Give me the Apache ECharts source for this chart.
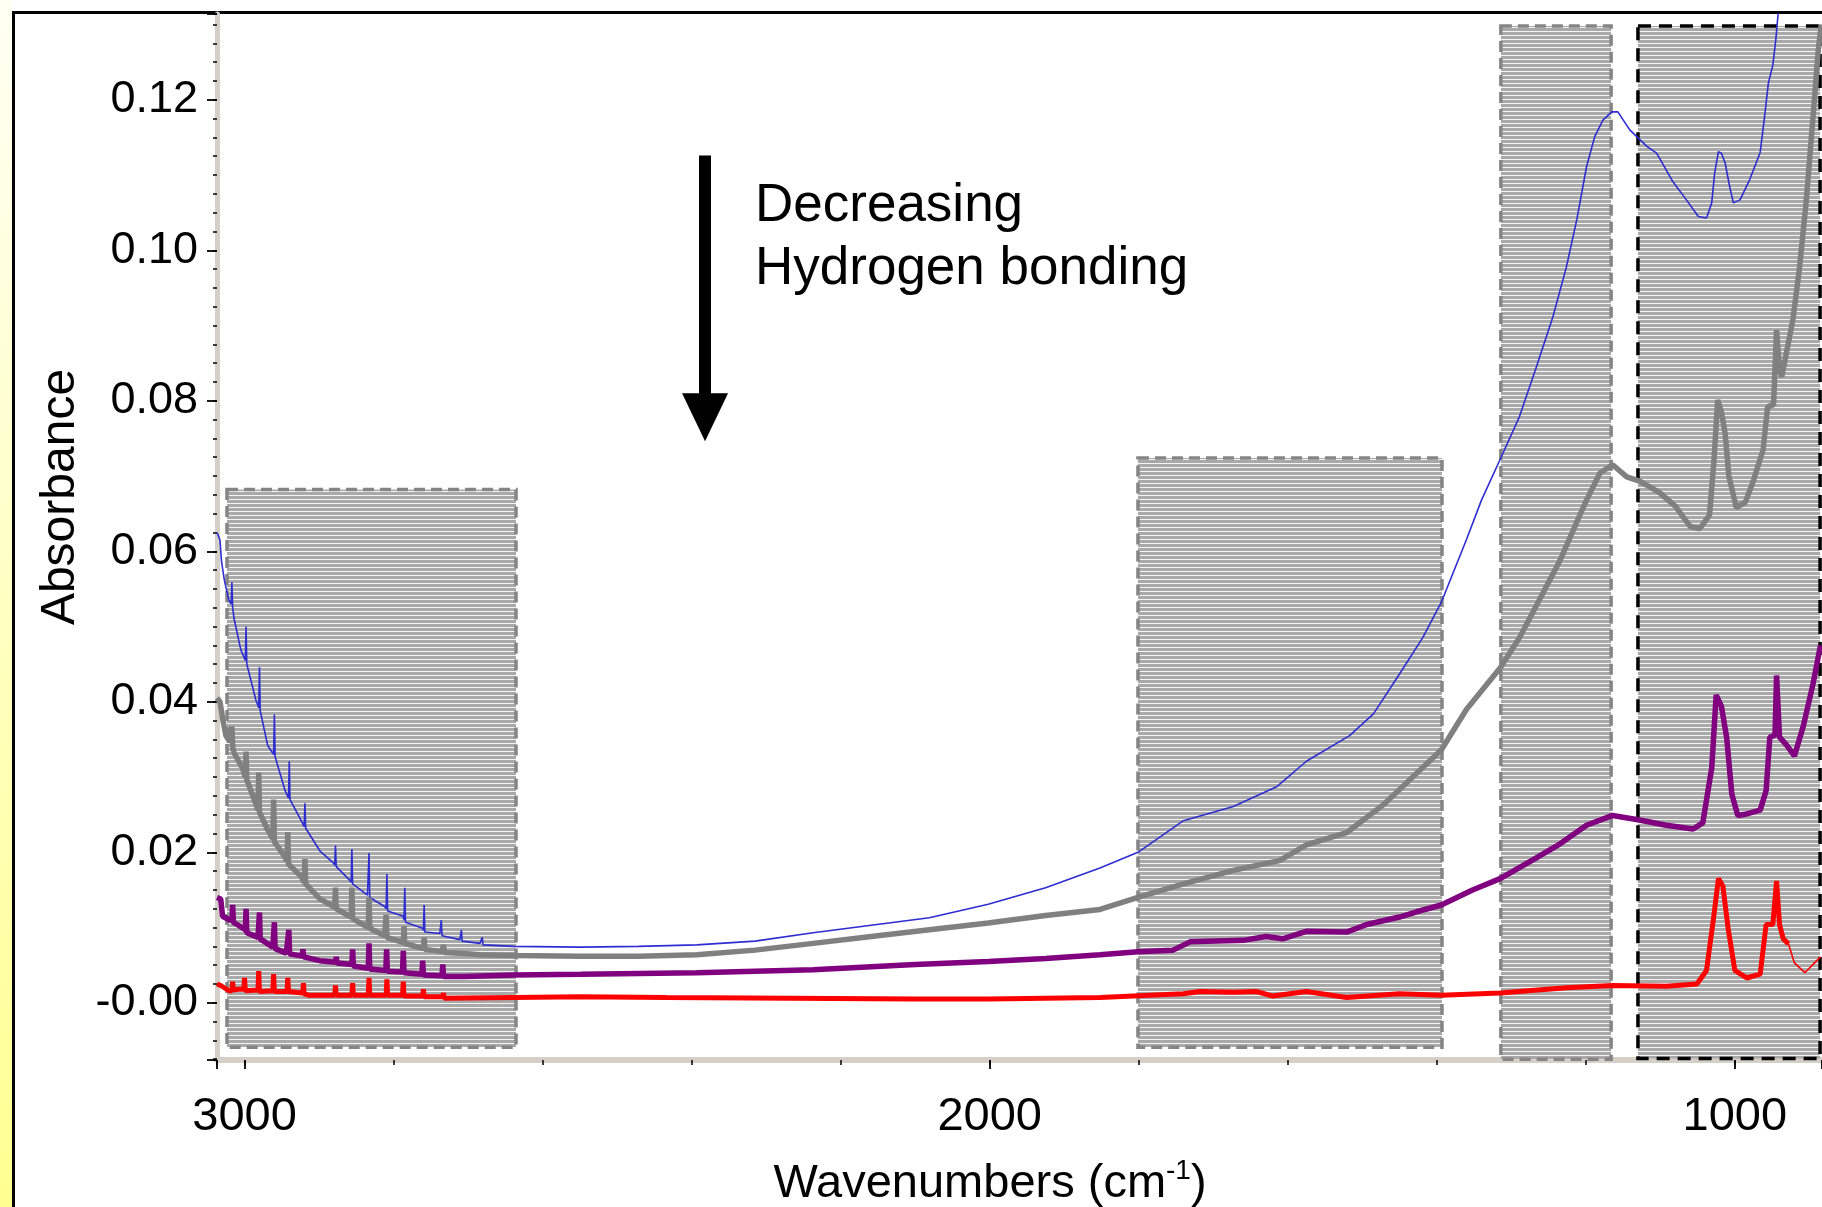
<!DOCTYPE html>
<html>
<head>
<meta charset="utf-8">
<title>Absorbance</title>
<script src="https://cdn.jsdelivr.net/npm/echarts@6/dist/echarts.min.js"></script>
<style>
html, body { margin: 0; padding: 0; background: #fff; }
#main { width: 1822px; height: 1207px; }
</style>
</head>
<body>
<div id="main"></div>
<script>
// axis ranges (wavenumber axis runs right to left)
const waveRange = [883, 3037];
const absRange = [-0.0076, 0.1314];
const waveSteps = [1000, 200];     // major, minor
const absSteps = [0.02, 0.0025];

// spectra, [wavenumber, absorbance]
const blueTrace = [
  [3037,0.0625],[3033,0.0615],[3031,0.0587],[3027,0.0561],[3021,0.0535],[3018,0.0530],[3017,0.0559],[3016,0.0525],
  [3014,0.0510],[3005,0.0469],[2999,0.0455],[2998,0.0500],[2997,0.0450],[2985,0.0403],[2981,0.0392],[2980,0.0446],
  [2979,0.0388],[2969,0.0342],[2961,0.0330],[2960,0.0383],[2959,0.0327],[2946,0.0283],[2941,0.0272],[2940,0.0321],
  [2939,0.0270],[2924,0.0242],[2920,0.0234],[2919,0.0265],[2918,0.0232],[2899,0.0202],[2881,0.0186],[2879,0.0183],
  [2878,0.0209],[2877,0.0181],[2859,0.0163],[2857,0.0160],[2856,0.0204],[2855,0.0158],[2835,0.0143],[2834,0.0142],
  [2833,0.0199],[2832,0.0140],[2812,0.0128],[2810,0.0125],[2809,0.0171],[2808,0.0122],[2787,0.0115],[2786,0.0110],
  [2785,0.0153],[2784,0.0107],[2761,0.0099],[2760,0.0096],[2759,0.0130],[2758,0.0094],[2738,0.0092],[2737,0.0090],
  [2736,0.0110],[2735,0.0089],[2711,0.0084],[2710,0.0083],[2709,0.0097],[2708,0.0082],[2684,0.0079],[2682,0.0078],
  [2681,0.0087],[2680,0.0077],[2639,0.0075],[2549,0.0074],[2471,0.0075],[2393,0.0077],[2315,0.0082],[2237,0.0093],
  [2159,0.0103],[2081,0.0113],[2002,0.0131],[1925,0.0153],[1852,0.0179],[1801,0.0200],[1740,0.0242],
  [1673,0.0261],[1615,0.0287],[1575,0.0321],[1517,0.0355],[1485,0.0384],[1450,0.0437],[1419,0.0485],
  [1394,0.0532],[1360,0.0616],[1340,0.0668],[1315,0.0722],[1289,0.0779],[1266,0.0846],[1244,0.0912],
  [1226,0.0978],[1212,0.1041],[1199,0.1111],[1188,0.1151],[1177,0.1173],[1165,0.1184],[1157,0.1184],
  [1141,0.1160],[1118,0.1138],[1105,0.1129],[1083,0.1091],[1065,0.1067],[1049,0.1045],[1038,0.1043],
  [1031,0.1063],[1027,0.1103],[1022,0.1131],[1018,0.1129],[1013,0.1116],[1007,0.1085],[1002,0.1063],
  [993,0.1067],[980,0.1094],[966,0.1130],[960,0.1178],[955,0.1222],[949,0.1246],[945,0.1280],
  [942,0.1313],[939,0.1350]
];
const grayTrace = [
  [3037,0.0405],[3033,0.0400],[3029.5,0.0378],[3025,0.0355],[3020,0.0347],[3018,0.0345],[3017,0.0367],[3016,0.0340],
  [3014,0.0332],[3002.5,0.0311],[2999,0.0300],[2998,0.0334],[2997,0.0296],[2985,0.0265],[2982,0.0256],[2981,0.0306],
  [2980,0.0253],[2969,0.0230],[2962,0.0218],[2961,0.0270],[2960,0.0214],[2946,0.0194],[2943,0.0188],[2942,0.0227],
  [2941,0.0184],[2924,0.0168],[2920,0.0160],[2919,0.0191],[2918,0.0158],[2899,0.0138],[2879,0.0127],[2878,0.0153],
  [2877,0.0125],[2857,0.0114],[2856,0.0153],[2855,0.0112],[2834,0.0100],[2833,0.0140],[2832,0.0099],[2812,0.0089],
  [2811,0.0088],[2810,0.0117],[2809,0.0087],[2787,0.0080],[2786,0.0102],[2785,0.0079],[2760,0.0072],[2759,0.0087],
  [2758,0.0071],[2735,0.0068],[2733,0.0077],[2732,0.0067],[2711,0.0066],[2684,0.0064],[2639,0.0063],[2549,0.0062],
  [2471,0.0062],[2393,0.0064],[2315,0.0070],[2237,0.0079],[2159,0.0088],[2081,0.0097],[2002,0.0106],[1925,0.0116],
  [1852,0.0124],[1801,0.0140],[1740,0.0158],[1673,0.0176],[1611,0.0189],[1575,0.0210],[1521,0.0226],[1472,0.0263],
  [1427,0.0305],[1394,0.0336],[1360,0.0390],[1315,0.0445],[1289,0.0485],[1262,0.0536],[1235,0.0587],
  [1208,0.0648],[1199,0.0668],[1181,0.0704],[1164,0.0715],[1145,0.0699],[1127,0.0693],[1101,0.0678],
  [1080,0.0660],[1060,0.0633],[1047,0.0630],[1034,0.0648],[1028,0.0720],[1023,0.0801],[1018,0.0785],
  [1013,0.0757],[1008,0.0700],[998,0.0658],[986,0.0665],[976,0.0691],[962,0.0735],[956,0.0792],
  [948,0.0795],[944,0.0894],[940,0.0840],[937,0.0832],[922,0.0908],[913,0.0978],[904,0.1067],
  [895,0.1178],[888,0.1266],[884,0.1300]
];
const purpleTrace = [
  [3037,0.0140],[3032,0.0138],[3029.5,0.0115],[3020,0.0110],[3017,0.0110],[3016,0.0130],[3015,0.0107],[3011.5,0.0105],
  [2999,0.0097],[2998,0.0125],[2997,0.0093],[2982,0.0087],[2981,0.0087],[2980,0.0120],[2979,0.0085],[2962,0.0074],
  [2961,0.0074],[2960,0.0107],[2959,0.0072],[2944,0.0066],[2941.6,0.0066],[2940.6,0.0097],[2939.6,0.0065],
  [2922.7,0.0062],[2921.7,0.0071],[2920.7,0.0061],[2899,0.0056],[2878,0.0054],[2877,0.0061],[2876,0.0053],
  [2856,0.0051],[2855,0.0071],[2854,0.0049],[2834,0.0046],[2833,0.0079],[2832,0.0045],[2810.4,0.0043],
  [2809.4,0.0071],[2808.4,0.0042],[2788,0.0041],[2787,0.0069],[2786,0.0040],[2762,0.0038],[2761,0.0056],
  [2760,0.0037],[2735,0.0036],[2734,0.0051],[2733,0.0035],[2706,0.0035],
  [2639,0.0037],[2549,0.0038],[2393,0.0040],[2237,0.0044],[2100,0.0051],[2002,0.0055],[1925,0.0059],
  [1852,0.0064],[1801,0.0068],[1754,0.0070],[1731,0.0081],[1660,0.0083],[1629,0.0088],[1607,0.0085],
  [1575,0.0095],[1521,0.0094],[1494,0.0104],[1450,0.0114],[1427,0.0121],[1394,0.0130],[1352,0.0150],
  [1315,0.0165],[1271,0.0190],[1235,0.0211],[1199,0.0236],[1164,0.0249],[1128,0.0243],[1092,0.0236],
  [1056,0.0231],[1043,0.0239],[1031,0.0312],[1025,0.0409],[1018,0.0394],[1011,0.0353],[1004,0.0277],
  [996,0.0249],[984,0.0251],[966,0.0256],[958,0.0282],[953,0.0353],[946,0.0356],[944,0.0435],
  [940,0.0353],[931,0.0343],[920,0.0328],[908,0.0368],[895,0.0424],[885,0.0475]
];
const redTrace = [
  [3037,0.0025],[3032,0.0023],[3021,0.0016],[3017,0.0016],[3016,0.0028],[3015,0.0017],[3009,0.0018],
  [3001,0.0018],[3000,0.0033],[2999,0.0016],[2982,0.0017],[2981,0.0042],[2980,0.0015],[2962,0.0016],
  [2961,0.0038],[2960,0.0015],[2943,0.0015],[2942,0.0033],[2941,0.0015],[2922,0.0013],[2921,0.0026],
  [2920,0.0012],[2913,0.0010],[2879,0.0010],[2878,0.0023],[2877,0.0010],[2856,0.0010],[2855,0.0026],
  [2854,0.0010],[2834,0.0010],[2833,0.0033],[2832,0.0010],[2810,0.0010],[2809,0.0031],[2808,0.0010],
  [2788,0.0010],[2787,0.0028],[2786,0.0009],[2761,0.0009],[2760,0.0018],[2759,0.0008],[2734,0.0008],
  [2733,0.0013],[2732,0.0006],[2639,0.0007],[2549,0.0008],[2434,0.0007],[2268,0.0006],[2100,0.0005],
  [2002,0.0005],[1925,0.0006],[1852,0.0007],[1740,0.0012],[1718,0.0015],[1674,0.0014],[1642,0.0015],
  [1620,0.0009],[1575,0.0015],[1521,0.0007],[1450,0.0012],[1394,0.0010],[1315,0.0013],[1226,0.0020],
  [1164,0.0023],[1092,0.0022],[1051,0.0025],[1038,0.0043],[1029,0.0109],[1022,0.0165],[1016,0.0155],
  [1009,0.0099],[1000,0.0043],[984,0.0033],[966,0.0038],[958,0.0104],[949,0.0104],[944,0.0162],
  [940,0.0104],[935,0.0085],[928,0.0078]
];
const redTail = [[928,0.0078],[920,0.0053],[906,0.0040],[895,0.0051],[885,0.0061]];

// shaded windows: [wave from, abs top, wave to, abs bottom]
const grayWindows = [
  [3023.6, 0.0682, 2635.7, -0.0059],
  [1801, 0.0724, 1393, -0.0059],
  [1314, 0.1298, 1166, -0.0075]
];
const blackWindows = [[1130, 0.1298, 885.6, -0.0074]];

const arrowFrom = [2382, 0.1126];
const arrowTo = [2382, 0.0778];
const noteText = ['Decreasing', 'Hydrogen bonding'];

const FONT = '"Liberation Sans", Arial, Helvetica, sans-serif';

// gray fill with thin white horizontal lines
function stripes() {
  const c = document.createElement('canvas');
  c.width = 4; c.height = 4;
  const ctx = c.getContext('2d');
  ctx.fillStyle = '#a9a9a9';
  ctx.fillRect(0, 0, 4, 4);
  ctx.fillStyle = '#f4f4f4';
  ctx.fillRect(0, 3, 4, 1);
  return { image: c, repeat: 'repeat' };
}

function onlyMajor(step, fmt) {
  return v => {
    const k = Math.round(v / step);
    if (Math.abs(v - k * step) > step * 1e-3) return '';
    return fmt(k * step);
  };
}

function toArea(list) {
  return list.map(b => [{ xAxis: b[0], yAxis: b[1] }, { xAxis: b[2], yAxis: b[3] }]);
}

const myChart = echarts.init(document.getElementById('main'));
const pattern = stripes();

const option = {
  animation: false,
  backgroundColor: '#fff',
  textStyle: { fontFamily: FONT },
  grid: { left: 217, top: 14, right: 0, bottom: 147, containLabel: false, outerBoundsMode: 'none' },
  xAxis: [
    {
      type: 'value', inverse: true, min: waveRange[0], max: waveRange[1],
      minInterval: waveSteps[1], maxInterval: waveSteps[1],
      axisLine: { show: true, onZero: false, lineStyle: { color: '#d4d0c8', width: 6 } },
      axisTick: { show: true, length: 5, lineStyle: { color: '#000', width: 1.5 } },
      axisLabel: { show: false }, splitLine: { show: false }
    },
    {
      type: 'value', inverse: true, min: waveRange[0], max: waveRange[1], position: 'bottom',
      minInterval: waveSteps[0], maxInterval: waveSteps[0],
      axisLine: { show: false, onZero: false },
      axisTick: { show: true, length: 9, lineStyle: { color: '#000', width: 1.8 } },
      axisLabel: {
        margin: 34, fontSize: 47, color: '#000', fontFamily: FONT,
        formatter: onlyMajor(waveSteps[0], v => String(Math.round(v)))
      },
      splitLine: { show: false },
      name: '{a|Wavenumbers (cm}{s|-1}{a|)}',
      nameLocation: 'middle', nameGap: 97,
      nameTextStyle: {
        padding: [0, 59, 0, 0],
        rich: {
          a: { fontSize: 47, fontFamily: FONT, color: '#000', lineHeight: 54 },
          s: { fontSize: 28, fontFamily: FONT, color: '#000', verticalAlign: 'top', lineHeight: 30 }
        }
      }
    }
  ],
  yAxis: [
    {
      type: 'value', min: absRange[0], max: absRange[1],
      minInterval: absSteps[1], maxInterval: absSteps[1],
      axisLine: { show: true, onZero: false, lineStyle: { color: '#d4d0c8', width: 5 } },
      axisTick: { show: true, length: 4, lineStyle: { color: '#000', width: 1.5 } },
      axisLabel: { show: false }, splitLine: { show: false }
    },
    {
      type: 'value', min: absRange[0], max: absRange[1], position: 'left',
      minInterval: absSteps[0], maxInterval: absSteps[0],
      axisLine: { show: false, onZero: false },
      axisTick: { show: true, length: 10, lineStyle: { color: '#000', width: 1.8 } },
      axisLabel: {
        margin: 19, fontSize: 45, color: '#000', fontFamily: FONT, padding: [7, 0, 0, 0],
        formatter: onlyMajor(absSteps[0], v => Math.abs(v) < 1e-9 ? '-0.00' : v.toFixed(2))
      },
      splitLine: { show: false },
      name: 'Absorbance', nameLocation: 'middle', nameGap: 132,
      nameTextStyle: { fontSize: 48, color: '#000', fontFamily: FONT, padding: [0, 0, 0, 80] }
    }
  ],
  graphic: [
    {
      type: 'rect', left: 0, top: 0, silent: true,
      shape: { width: 12, height: 1207 },
      style: { fill: new echarts.graphic.LinearGradient(0, 0, 0, 1, [
        { offset: 0, color: '#fffff4' }, { offset: 1, color: '#ffff90' }
      ]) }
    },
    { type: 'rect', left: 12, top: 11, silent: true, shape: { width: 3, height: 1196 }, style: { fill: '#000' } },
    { type: 'rect', left: 12, top: 11, silent: true, shape: { width: 1810, height: 3 }, style: { fill: '#000' } },
    {
      type: 'text', left: 755, top: 175, silent: true, z: 10,
      style: { text: noteText.join('\n'), fontSize: 53, fontFamily: FONT, lineHeight: 63, fill: '#000' }
    }
  ],
  series: [
    {
      type: 'line', data: [], z: 1, silent: true,
      markArea: {
        silent: true,
        itemStyle: { color: pattern, opacity: 1, borderColor: '#858585', borderWidth: 3.5, borderType: [11, 6] },
        data: toArea(grayWindows)
      }
    },
    {
      type: 'line', data: [], z: 1, silent: true,
      markArea: {
        silent: true,
        itemStyle: { color: pattern, opacity: 1, borderColor: '#000', borderWidth: 3.5, borderType: [13, 8] },
        data: toArea(blackWindows)
      }
    },
    {
      type: 'line', data: [], z: 5, silent: true,
      markLine: {
        silent: true, symbol: ['none', 'triangle'], symbolSize: [46, 48],
        label: { show: false },
        lineStyle: { color: '#000', width: 12, type: 'solid' },
        data: [[{ coord: arrowFrom }, { coord: arrowTo }]]
      }
    },
    { name: 'blue', type: 'line', data: blueTrace, showSymbol: false, z: 3, lineStyle: { color: '#2d2dd2', width: 1.6 } },
    { name: 'gray', type: 'line', data: grayTrace, showSymbol: false, z: 3, lineStyle: { color: '#808080', width: 5.5 } },
    { name: 'purple', type: 'line', data: purpleTrace, showSymbol: false, z: 3, lineStyle: { color: '#800080', width: 5.5 } },
    { name: 'red', type: 'line', data: redTrace, showSymbol: false, z: 3, lineStyle: { color: '#ff0000', width: 5 } },
    { name: 'redTail', type: 'line', data: redTail, showSymbol: false, z: 3, lineStyle: { color: '#ff0000', width: 1.6 } }
  ]
};
myChart.setOption(option);
</script>
</body>
</html>
